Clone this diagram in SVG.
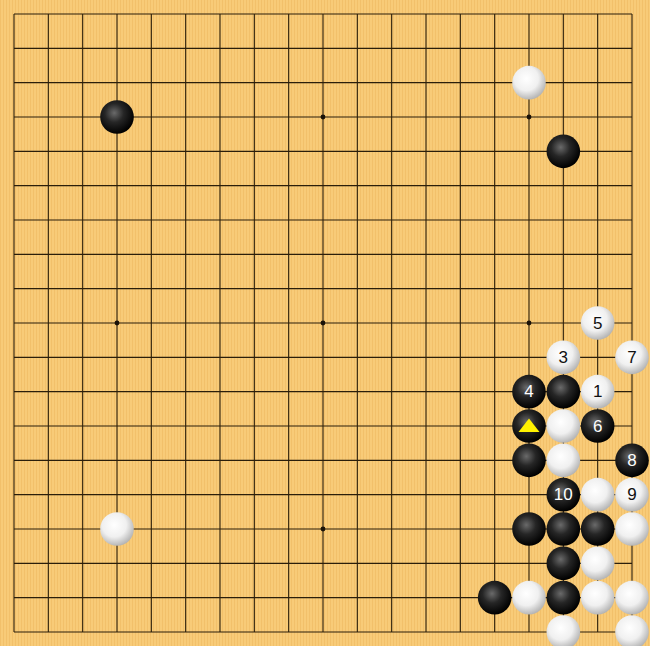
<svg xmlns="http://www.w3.org/2000/svg" width="650" height="646" viewBox="0 0 650 646">
<defs>
<pattern id="wood" width="3" height="10" patternUnits="userSpaceOnUse">
<rect width="3" height="10" fill="#F8CB78"/>
<rect x="0" width="1" height="10" fill="#F2C06A"/>
</pattern>
<radialGradient id="gb" cx="0.42" cy="0.38" r="0.62">
<stop offset="0" stop-color="#6a6a6a"/>
<stop offset="0.45" stop-color="#262626"/>
<stop offset="1" stop-color="#000"/>
</radialGradient>
<radialGradient id="gw" cx="0.42" cy="0.38" r="0.65">
<stop offset="0" stop-color="#ffffff"/>
<stop offset="0.55" stop-color="#f0f0f0"/>
<stop offset="1" stop-color="#b0b0b0"/>
</radialGradient>
<g id="B"><circle r="16.8" fill="url(#gb)"/></g>
<g id="W"><circle r="16.8" fill="url(#gw)"/></g>
</defs>
<style>
.grid line{stroke:#2b1e0a;stroke-width:1.1}
.star{fill:#1a1208}
.n{font-family:"Liberation Sans",Arial,sans-serif;font-size:17px;text-anchor:middle;dominant-baseline:central}
.nb{fill:#fff}
.nw{fill:#111}
</style>
<rect width="650" height="646" fill="url(#wood)"/>
<g id="grid" class="grid">
<line x1="14" y1="14" x2="14" y2="632"/><line x1="48.33" y1="14" x2="48.33" y2="632"/><line x1="82.67" y1="14" x2="82.67" y2="632"/><line x1="117" y1="14" x2="117" y2="632"/><line x1="151.33" y1="14" x2="151.33" y2="632"/><line x1="185.67" y1="14" x2="185.67" y2="632"/><line x1="220" y1="14" x2="220" y2="632"/><line x1="254.33" y1="14" x2="254.33" y2="632"/><line x1="288.67" y1="14" x2="288.67" y2="632"/><line x1="323" y1="14" x2="323" y2="632"/><line x1="357.33" y1="14" x2="357.33" y2="632"/><line x1="391.67" y1="14" x2="391.67" y2="632"/><line x1="426" y1="14" x2="426" y2="632"/><line x1="460.33" y1="14" x2="460.33" y2="632"/><line x1="494.67" y1="14" x2="494.67" y2="632"/><line x1="529" y1="14" x2="529" y2="632"/><line x1="563.33" y1="14" x2="563.33" y2="632"/><line x1="597.67" y1="14" x2="597.67" y2="632"/><line x1="632" y1="14" x2="632" y2="632"/>
<line y1="14" x1="14" y2="14" x2="632"/><line y1="48.33" x1="14" y2="48.33" x2="632"/><line y1="82.67" x1="14" y2="82.67" x2="632"/><line y1="117" x1="14" y2="117" x2="632"/><line y1="151.33" x1="14" y2="151.33" x2="632"/><line y1="185.67" x1="14" y2="185.67" x2="632"/><line y1="220" x1="14" y2="220" x2="632"/><line y1="254.33" x1="14" y2="254.33" x2="632"/><line y1="288.67" x1="14" y2="288.67" x2="632"/><line y1="323" x1="14" y2="323" x2="632"/><line y1="357.33" x1="14" y2="357.33" x2="632"/><line y1="391.67" x1="14" y2="391.67" x2="632"/><line y1="426" x1="14" y2="426" x2="632"/><line y1="460.33" x1="14" y2="460.33" x2="632"/><line y1="494.67" x1="14" y2="494.67" x2="632"/><line y1="529" x1="14" y2="529" x2="632"/><line y1="563.33" x1="14" y2="563.33" x2="632"/><line y1="597.67" x1="14" y2="597.67" x2="632"/><line y1="632" x1="14" y2="632" x2="632"/>
</g>
<g id="stars" class="star">
<circle cx="117" cy="117" r="2.4"/><circle cx="323" cy="117" r="2.4"/><circle cx="529" cy="117" r="2.4"/>
<circle cx="117" cy="323" r="2.4"/><circle cx="323" cy="323" r="2.4"/><circle cx="529" cy="323" r="2.4"/>
<circle cx="117" cy="529" r="2.4"/><circle cx="323" cy="529" r="2.4"/><circle cx="529" cy="529" r="2.4"/>
</g>
<g id="stones">
<use href="#W" x="529" y="82.67"/>
<use href="#B" x="117" y="117"/>
<use href="#B" x="563.33" y="151.33"/>
<use href="#W" x="117" y="529"/>
<use href="#W" x="597.67" y="323"/>
<use href="#W" x="563.33" y="357.33"/>
<use href="#W" x="632" y="357.33"/>
<use href="#B" x="529" y="391.67"/>
<use href="#B" x="563.33" y="391.67"/>
<use href="#W" x="597.67" y="391.67"/>
<use href="#B" x="529" y="426"/>
<use href="#W" x="563.33" y="426"/>
<use href="#B" x="597.67" y="426"/>
<use href="#B" x="529" y="460.33"/>
<use href="#W" x="563.33" y="460.33"/>
<use href="#B" x="632" y="460.33"/>
<use href="#B" x="563.33" y="494.67"/>
<use href="#W" x="597.67" y="494.67"/>
<use href="#W" x="632" y="494.67"/>
<use href="#B" x="529" y="529"/>
<use href="#B" x="563.33" y="529"/>
<use href="#B" x="597.67" y="529"/>
<use href="#W" x="632" y="529"/>
<use href="#B" x="563.33" y="563.33"/>
<use href="#W" x="597.67" y="563.33"/>
<use href="#B" x="494.67" y="597.67"/>
<use href="#W" x="529" y="597.67"/>
<use href="#B" x="563.33" y="597.67"/>
<use href="#W" x="597.67" y="597.67"/>
<use href="#W" x="632" y="597.67"/>
<use href="#W" x="563.33" y="632"/>
<use href="#W" x="632" y="632"/>
</g>
<g id="labels">
<text class="n nw" x="597.67" y="323">5</text>
<text class="n nw" x="563.33" y="357.33">3</text>
<text class="n nw" x="632" y="357.33">7</text>
<text class="n nb" x="529" y="391.67">4</text>
<text class="n nw" x="597.67" y="391.67">1</text>
<text class="n nb" x="597.67" y="426">6</text>
<text class="n nb" x="632" y="460.33">8</text>
<text class="n nb" x="563.33" y="494.67">10</text>
<text class="n nw" x="632" y="494.67">9</text>
<polygon points="529,418.5 518.5,432 539.5,432" fill="#FFF200"/>
</g>
</svg>
